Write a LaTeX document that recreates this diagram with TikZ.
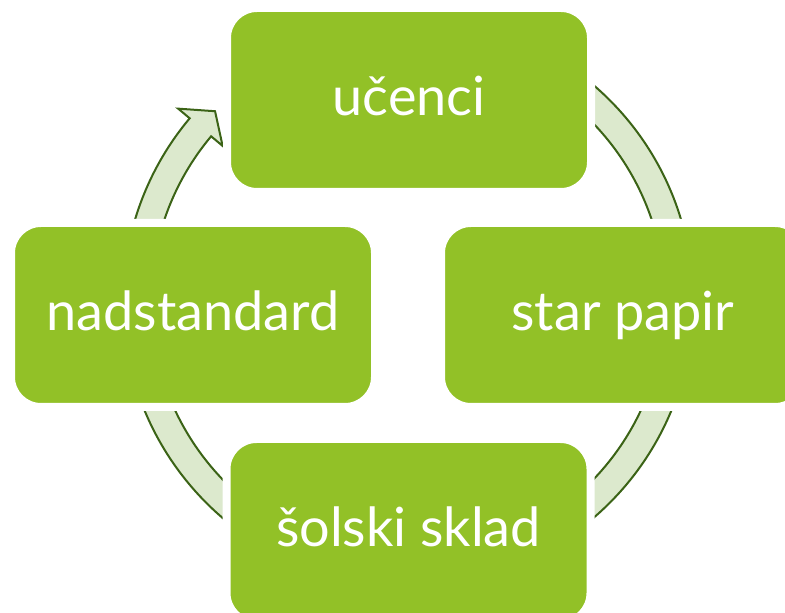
\documentclass[tikz,border=0pt]{standalone}
\usepackage{fontspec}
\setmainfont{Lato}
\definecolor{boxgreen}{RGB}{146,193,39}
\definecolor{ringfill}{RGB}{220,233,205}
\definecolor{ringline}{RGB}{59,99,22}
\begin{document}
\begin{tikzpicture}[x=1pt,y=1pt,
    stage/.style={fill=boxgreen,draw=white,line width=8pt,rounded corners=30pt,
      minimum width=364pt,minimum height=184pt,inner sep=0pt,text=white,
      font=\fontsize{54}{60}\selectfont,text height=44pt,text depth=12pt},
    ring/.style={fill=ringfill,draw=ringline,line width=2pt}]
  \clip (0,0) rectangle (785,613);
  \coordinate (c) at (408,311.5);
  \begin{scope}[shift={(c)}]
    \draw[ring] (90:285) arc[start angle=90,end angle=-180,radius=285]
      -- (180:257) arc[start angle=-180,end angle=90,radius=257] -- cycle;
    \draw[ring] (180:257) arc[start angle=180,end angle=140,radius=257]
      -- (140:242) -- (135.4:271) -- (140:300) -- (140:285)
      arc[start angle=140,end angle=180,radius=285] -- cycle;
  \end{scope}
  \node[stage] (ucenci) at (409,513) {učenci};
  \node[stage] (papir) at (623,298) {star papir};
  \node[stage] (sklad) at (408.5,82) {šolski sklad};
  \node[stage] (nadstandard) at (193,298) {nadstandard};
\end{tikzpicture}
\end{document}
